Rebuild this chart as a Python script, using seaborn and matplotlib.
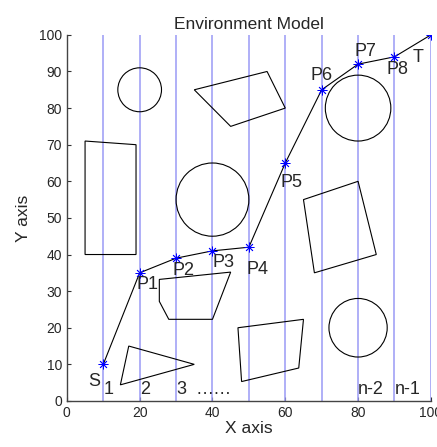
import numpy as np
import matplotlib
matplotlib.use('Agg')
import matplotlib.pyplot as plt
from matplotlib.patches import Circle, Polygon
import seaborn as sns

# path points S, P1..P8, T
path_x = [10, 20, 30, 40, 50, 60, 70, 80, 90, 100]
path_y = [10, 35, 39, 41, 42, 65, 85, 92, 94, 100]

# point labels and where they sit
point_labels = ['S', 'P1', 'P2', 'P3', 'P4', 'P5', 'P6', 'P7', 'P8', 'T']
label_x = [6, 19.1, 29, 40, 49.3, 58.8, 66.8, 79, 87.8, 95]
label_y = [3, 29.5, 33.2, 35.5, 33.7, 57.3, 86.6, 93, 88.3, 91.5]

# grid line positions
grid_x = [10, 20, 30, 40, 50, 60, 70, 80, 90, 100]

# column index labels along the bottom
col_labels = ['1', '2', '3', '……', 'n-2', 'n-1']
col_label_x = [10.2, 20, 30, 35.3, 80, 90]
col_label_y = [0.8, 0.8, 0.8, 0.8, 0.8, 0.8]

# circular obstacles
circle_x = [20, 40, 80, 80]
circle_y = [85, 55, 80, 20]
circle_r = [6, 10, 9, 8]

# polygon obstacles
polygons = [
    [(5, 71), (19, 70), (19, 40), (5, 40)],
    [(35, 85), (55, 90), (60, 80), (45, 75)],
    [(65, 55), (80, 60), (85, 40), (68, 35)],
    [(25.4, 33.2), (45, 35.2), (40, 22.3), (28, 22.3), (25.4, 27.2)],
    [(47, 20), (65, 22.3), (63.7, 9), (48, 5.3)],
    [(17, 15), (35, 10), (14.7, 4.4)],
]

sns.set_style("ticks")
plt.rcParams['font.family'] = ['Liberation Sans', 'DejaVu Sans']

fig = plt.figure(figsize=(4.37, 4.47), dpi=100)
ax = fig.add_axes([0.153, 0.103, 0.833, 0.819])

# vertical grid lines
for gx in grid_x:
    ax.plot([gx, gx], [0, 100], color='#9a9af5', lw=1.1, zorder=1)

# obstacles
for cx, cy, r in zip(circle_x, circle_y, circle_r):
    ax.add_patch(Circle((cx, cy), r, fill=False, ec='black', lw=0.8, zorder=2))
for poly in polygons:
    ax.add_patch(Polygon(poly, closed=True, fill=False, ec='black', lw=0.8, zorder=2))

# path
sns.lineplot(x=path_x, y=path_y, sort=False, estimator=None, color='black',
             lw=0.8, ax=ax, zorder=3)
ax.plot(path_x, path_y, ls='none', marker=(8, 2, 0), ms=7, mew=0.6, mec='blue',
        zorder=4)

for lab, lx, ly in zip(point_labels, label_x, label_y):
    ax.text(lx, ly, lab, fontsize=13, ha='left', va='bottom', zorder=5)
for lab, lx, ly in zip(col_labels, col_label_x, col_label_y):
    ax.text(lx, ly, lab, fontsize=13, ha='left', va='bottom', zorder=5)

ax.set_xlim(0, 100)
ax.set_ylim(0, 100)
ax.set_xticks(np.arange(0, 101, 20))
ax.set_yticks(np.arange(0, 101, 10))
ax.tick_params(direction='in', length=3, width=0.8, labelsize=10, color='#333333')
for s in ['top', 'right']:
    ax.spines[s].set_visible(False)
for s in ['left', 'bottom']:
    ax.spines[s].set_color('#444444')
    ax.spines[s].set_linewidth(1.0)

ax.set_title('Environment Model', fontsize=12.5, pad=4)
ax.set_xlabel('X axis', fontsize=12.5, labelpad=1)
ax.set_ylabel('Y axis', fontsize=12.5, labelpad=6)

plt.savefig('out.png', dpi=100)
